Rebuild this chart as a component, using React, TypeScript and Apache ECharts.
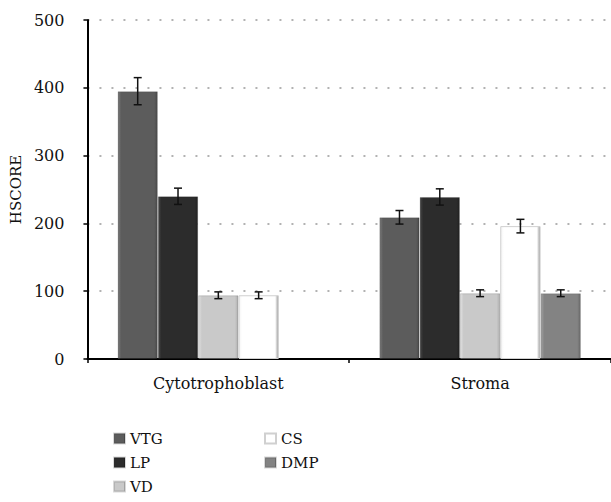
import React, { useEffect, useRef } from "react";
import * as echarts from "echarts";

const categories = ["Cytotrophoblast", "Stroma"];
const seriesNames = ["VTG", "LP", "VD", "CS", "DMP"];
const vtg = [395, 209];
const lp = [240, 239];
const vd = [94, 97];
const cs = [94, 196];
const dmp: (number | null)[] = [null, 97];
const vtgErr = [20, 10];
const lpErr = [12, 12];
const vdErr = [5, 5];
const csErr = [5, 10];
const dmpErr = [0, 5];
const yTicks = [0, 100, 200, 300, 400, 500];

const FONT = "DejaVu Serif";
const GAP = 0.23;

function grad(l: string, m: string, r: string) {
  return new echarts.graphic.LinearGradient(0, 0, 1, 0, [
    { offset: 0, color: l },
    { offset: 0.08, color: m },
    { offset: 0.92, color: m },
    { offset: 1, color: r },
  ]);
}

const colors = [
  grad("#7a7a7a", "#5c5c5c", "#4a4a4a"),
  grad("#444444", "#2c2c2c", "#222222"),
  grad("#e0e0e0", "#c9c9c9", "#b0b0b0"),
  grad("#f4f4f4", "#ffffff", "#9a9a9a"),
  grad("#a0a0a0", "#838383", "#6a6a6a"),
];

export default function App() {
  const ref = useRef<HTMLDivElement>(null);
  useEffect(() => {
    if (!ref.current) return;
    const chart = echarts.init(ref.current, null, { renderer: "svg" });
    const values = [vtg, lp, vd, cs, dmp];
    const errs = [vtgErr, lpErr, vdErr, csErr, dmpErr];
    const n = seriesNames.length;

    const barSeries = seriesNames.map((name, i) => ({
      name,
      type: "bar",
      data: values[i].map((v) => (v == null ? "-" : v)),
      barGap: "0%",
      barCategoryGap: "23%",
      itemStyle: {
        color: colors[i],
        borderColor: i === 3 ? "#d0d0d0" : "rgba(0,0,0,0.15)",
        borderWidth: 1,
      },
      emphasis: { disabled: true },
    }));

    const errSeries = seriesNames.map((name, i) => ({
      name: name + "_err",
      type: "custom",
      silent: true,
      data: values[i]
        .map((v, c) => (v == null ? null : [c, v, errs[i][c]]))
        .filter((d) => d !== null),
      renderItem: (params: any, api: any) => {
        const c = api.value(0);
        const v = api.value(1);
        const e = api.value(2);
        const band = api.size([1, 0])[0];
        const groupW = band * (1 - GAP);
        const barW = groupW / n;
        const off = -groupW / 2 + barW * (i + 0.5);
        const top = api.coord([c, v + e]);
        const bot = api.coord([c, v - e]);
        const x = top[0] + off;
        const cap = 4;
        const style = { stroke: "#111", lineWidth: 1.5 };
        return {
          type: "group",
          children: [
            { type: "line", shape: { x1: x, y1: top[1], x2: x, y2: bot[1] }, style },
            { type: "line", shape: { x1: x - cap, y1: top[1], x2: x + cap, y2: top[1] }, style },
            { type: "line", shape: { x1: x - cap, y1: bot[1], x2: x + cap, y2: bot[1] }, style },
          ],
        };
      },
      z: 10,
    }));

    const legendText = { fontFamily: FONT, fontSize: 15, color: "#111" };

    chart.setOption({
      animation: false,
      textStyle: { fontFamily: FONT },
      grid: { left: 87, right: 0, top: 20, bottom: 143, containLabel: false },
      legend: [
        {
          data: ["VTG", "LP", "VD"],
          orient: "vertical",
          left: 108,
          top: 426,
          height: 80,
          itemWidth: 11,
          itemHeight: 10,
          itemGap: 9,
          icon: "rect",
          selectedMode: false,
          textStyle: legendText,
        },
        {
          data: ["CS", "DMP"],
          orient: "vertical",
          left: 259,
          top: 426,
          height: 80,
          itemWidth: 11,
          itemHeight: 10,
          itemGap: 9,
          icon: "rect",
          selectedMode: false,
          textStyle: legendText,
        },
      ],
      xAxis: {
        type: "category",
        data: categories,
        axisLine: { lineStyle: { color: "#000", width: 2 } },
        axisTick: { show: true, length: 4, lineStyle: { color: "#000", width: 1.5 } },
        axisLabel: {
          color: "#111",
          fontFamily: FONT,
          fontSize: 16,
          margin: 16,
        },
      },
      yAxis: {
        type: "value",
        min: yTicks[0],
        max: yTicks[yTicks.length - 1],
        interval: 100,
        name: "HSCORE",
        nameLocation: "middle",
        nameGap: 62,
        nameTextStyle: { fontFamily: FONT, fontSize: 15, color: "#111" },
        axisLine: { show: true, lineStyle: { color: "#000", width: 2 } },
        axisTick: { show: true, length: 4, lineStyle: { color: "#000", width: 1.5 } },
        axisLabel: { color: "#111", fontFamily: FONT, fontSize: 16, margin: 23 },
        splitLine: { show: true, lineStyle: { color: "#999", type: [2, 10], width: 1.5 } },
      },
      series: [...barSeries, ...errSeries],
    });
    return () => chart.dispose();
  }, []);
  return <div ref={ref} style={{ width: 611, height: 502, position: "absolute", left: 0, top: 0 }} />;
}
